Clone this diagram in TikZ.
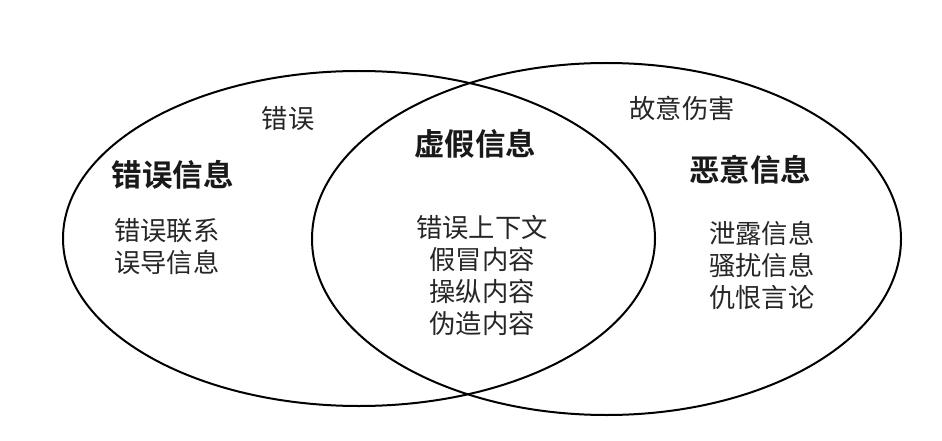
\documentclass[tikz,border=0pt]{standalone}
\usepackage{fontspec}
\usetikzlibrary{shapes.geometric}
\newfontfamily\cjk{Noto Sans CJK SC}
\newfontfamily\cjkbold{Noto Sans CJK SC Bold}
\begin{document}
\begin{tikzpicture}[x=1pt,y=-1pt,
  venn/.style={draw=black, line width=2pt, ellipse, inner sep=0pt},
  title/.style={inner sep=0pt, font=\cjkbold\fontsize{30.5}{34}\selectfont, text=black!90},
  item/.style={inner sep=0pt, font=\cjk\fontsize{26.3}{32}\selectfont, text=black!85},
]
\useasboundingbox[fill=white] (0,0) rectangle (942,441);
\node[venn, minimum width=592pt, minimum height=335pt] (left) at (359,238.5) {};
\node[venn, minimum width=589pt, minimum height=352pt] (right) at (606.5,239) {};
\node[title] (mis) at (172.5,175) {错误信息};
\node[title] (dis) at (475,144) {虚假信息};
\node[title] (mal) at (750,170) {恶意信息};
\node[item] (wrong) at (288,119) {错误};
\node[item] (harm) at (682,108.5) {故意伤害};
\node[item, anchor=west, align=left] (mislist) at (114,246.5) {错误联系\\误导信息};
\node[item, align=center] (dislist) at (482,275.5) {错误上下文\\假冒内容\\操纵内容\\伪造内容};
\node[item, anchor=west, align=left] (mallist) at (709,265) {泄露信息\\骚扰信息\\仇恨言论};
\end{tikzpicture}
\end{document}
